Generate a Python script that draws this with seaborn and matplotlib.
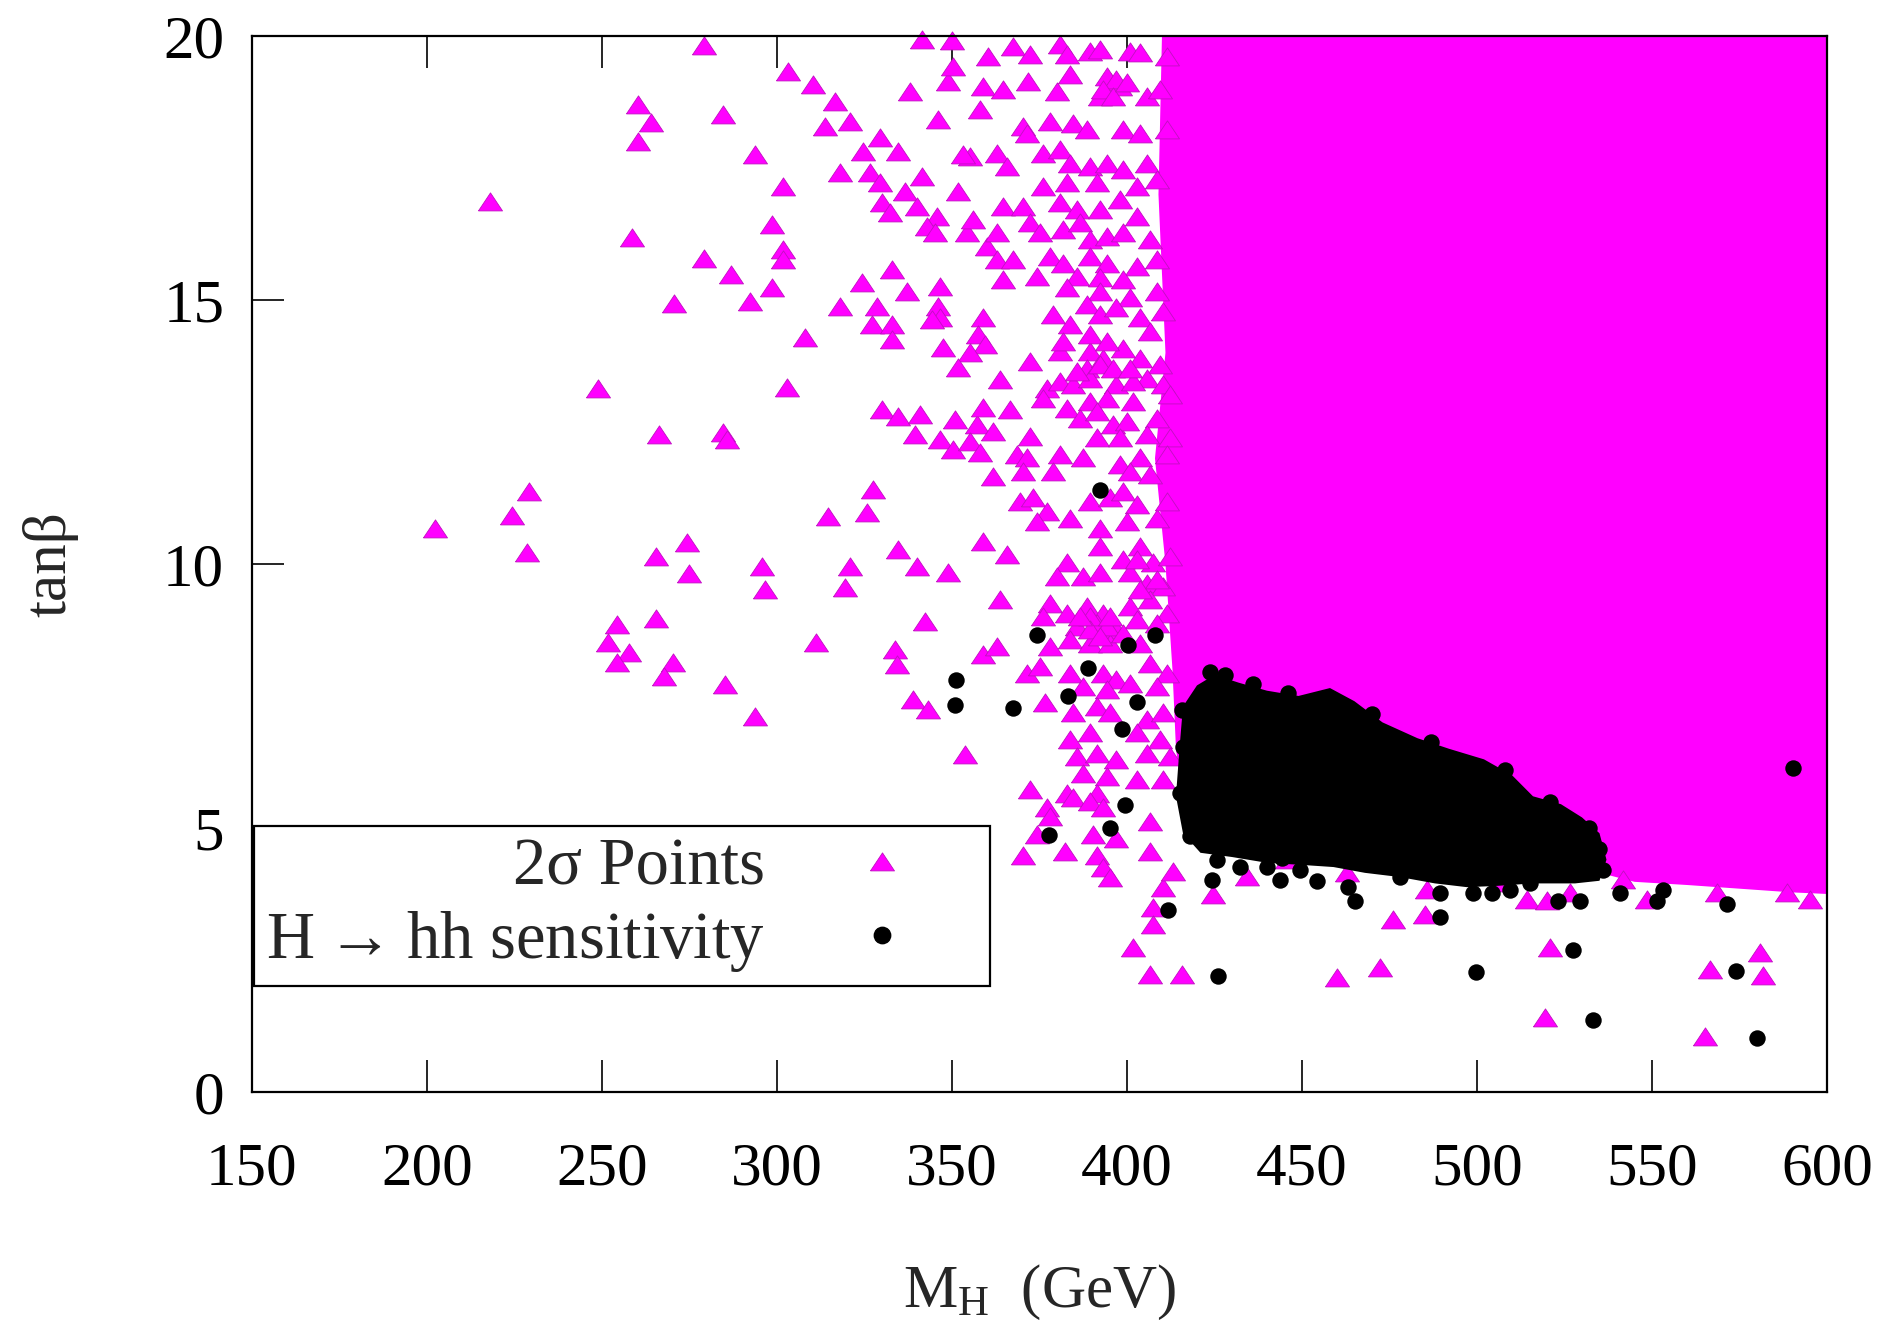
import matplotlib
matplotlib.use("Agg")
import matplotlib.pyplot as plt
import seaborn as sns
import pandas as pd
from matplotlib.lines import Line2D

# ---------------------------------------------------------------------------
# 2-sigma allowed points (M_H [GeV], tan beta), sparse part of the scan
# ---------------------------------------------------------------------------
pts_far_left = [
    (279.1, 19.81), (260.3, 18.69), (264.0, 18.35), (260.3, 17.99), (284.6, 18.5),
    (218.0, 16.86), (258.6, 16.17), (279.1, 15.78), (286.9, 15.47), (270.6, 14.92),
    (248.9, 13.31), (266.3, 12.44), (284.6, 12.48), (285.7, 12.35), (229.1, 11.36),
    (224.3, 10.9), (202.3, 10.66), (228.6, 10.2), (265.4, 10.13), (274.3, 10.4),
    (274.9, 9.81), (265.4, 8.96), (254.3, 8.84), (251.7, 8.5), (257.7, 8.31),
    (254.3, 8.13), (270.3, 8.13), (267.7, 7.86), (285.1, 7.71),
]

pts_middle = [
    (303.1, 19.32), (310.3, 19.07), (316.6, 18.75), (313.7, 18.28), (320.9, 18.37),
    (293.7, 17.75), (329.4, 18.07), (324.6, 17.8), (334.6, 17.8), (338.0, 18.94),
    (341.4, 19.92), (350.0, 19.9), (348.9, 19.13), (350.3, 19.41), (346.0, 18.41),
    (301.7, 17.14), (318.0, 17.4), (326.6, 17.4), (329.4, 17.22), (341.4, 17.33),
    (336.6, 17.05), (330.0, 16.84), (332.3, 16.65), (340.0, 16.76), (345.7, 16.57),
    (351.7, 17.05), (298.6, 16.42), (301.7, 15.95), (301.7, 15.76), (342.9, 16.38),
    (345.1, 16.27), (354.3, 16.27), (356.0, 16.52), (298.6, 15.23), (292.3, 14.96),
    (324.3, 15.32), (332.9, 15.57), (337.1, 15.15), (318.0, 14.87), (328.6, 14.87),
    (327.1, 14.53), (332.9, 14.53), (332.9, 14.24), (346.6, 15.25), (346.0, 14.87),
    (346.6, 14.66), (308.0, 14.28), (344.3, 14.62), (347.4, 14.09), (358.9, 14.66),
    (357.4, 14.34), (359.4, 14.15), (355.1, 14.0), (351.7, 13.71), (302.9, 13.33),
    (330.0, 12.92), (334.6, 12.78), (340.9, 12.82), (339.4, 12.44), (346.6, 12.35),
    (350.9, 12.73), (350.3, 12.16), (357.1, 12.63), (358.9, 12.95), (355.1, 12.31),
    (358.0, 12.1), (327.4, 11.4), (325.7, 10.97), (314.6, 10.89), (360.3, 19.6),
    (358.9, 19.03), (358.0, 18.6), (355.1, 17.7), (353.1, 17.75), (360.0, 16.0),
    (295.6, 9.95), (296.6, 9.5), (320.9, 9.95), (319.4, 9.54), (334.7, 10.26),
    (339.9, 9.95), (348.9, 9.82), (358.9, 10.42), (342.3, 8.91), (311.3, 8.5),
    (333.7, 8.37), (334.2, 8.09), (339.0, 7.42), (343.2, 7.23), (293.7, 7.11),
    (358.9, 8.27), (353.7, 6.38),
]

pts_edge_upper = [
    (367.5, 19.79), (372.3, 19.64), (380.9, 19.83), (382.8, 19.64), (389.4, 19.7),
    (392.3, 19.73), (400.9, 19.7), (403.7, 19.67), (411.3, 19.6), (371.8, 19.13),
    (383.7, 19.26), (395.2, 19.13), (398.0, 19.04), (364.7, 18.97), (379.9, 18.94),
    (392.3, 18.85), (405.6, 18.85), (409.4, 18.97), (370.4, 18.28), (371.3, 18.15),
    (378.0, 18.37), (384.7, 18.34), (388.5, 18.22), (399.0, 18.22), (403.7, 18.15),
    (411.3, 18.22), (362.8, 17.77), (365.6, 17.52), (376.1, 17.77), (380.9, 17.84),
    (383.7, 17.58), (389.4, 17.52), (394.2, 17.58), (399.0, 17.46), (405.6, 17.58),
    (376.1, 17.14), (382.8, 17.21), (391.3, 17.21), (402.8, 17.14), (408.5, 17.27),
    (364.7, 16.76), (370.4, 16.76), (380.9, 16.83), (385.6, 16.7), (392.3, 16.7),
    (398.0, 16.89), (402.8, 16.58), (362.8, 16.26), (372.3, 16.45), (375.2, 16.26),
    (381.8, 16.32), (386.6, 16.45), (389.4, 16.13), (394.2, 16.2), (399.0, 16.26),
    (406.6, 16.13), (362.8, 15.75), (367.5, 15.75), (378.0, 15.82), (381.8, 15.69),
    (389.4, 15.82), (394.2, 15.69), (402.8, 15.63), (408.5, 15.75), (364.7, 15.38),
    (374.2, 15.44), (385.6, 15.44), (392.3, 15.41), (399.0, 15.38),
    (394.2, 19.23), (397.0, 19.16), (393.2, 18.97), (396.1, 18.85), (399.9, 19.1),
]

pts_edge_middle = [
    (382.8, 15.22), (392.3, 15.15), (400.9, 15.03), (408.5, 15.15), (379.0, 14.71),
    (383.7, 14.52), (388.5, 14.9), (392.3, 14.71), (397.0, 14.84), (403.7, 14.65),
    (410.4, 14.77), (406.6, 14.4), (372.3, 13.83), (380.9, 14.02), (381.8, 14.21),
    (389.4, 14.02), (388.5, 13.7), (393.2, 13.89), (399.0, 14.08), (403.7, 13.89),
    (409.4, 13.76), (405.6, 13.51), (363.7, 13.48), (377.1, 13.32), (380.9, 13.45),
    (384.7, 13.39), (389.4, 13.51), (397.0, 13.39), (401.8, 13.45), (410.4, 13.39),
    (376.1, 13.13), (382.8, 12.94), (389.4, 13.07), (394.2, 13.13), (401.8, 13.07),
    (412.3, 13.2), (366.6, 12.91), (386.6, 12.75), (391.3, 12.88), (396.1, 12.63),
    (399.9, 12.69), (408.5, 12.75), (361.8, 12.5), (372.3, 12.41), (391.3, 12.38),
    (398.0, 12.38), (405.6, 12.44), (412.3, 12.38), (368.5, 12.06), (371.3, 12.0),
    (380.9, 12.06), (387.5, 12.0), (398.0, 11.87), (403.7, 12.0), (411.3, 12.06),
    (361.8, 11.65), (370.4, 11.75), (379.0, 11.75), (400.9, 11.75), (406.6, 11.68),
    (369.4, 11.18), (373.2, 11.24), (377.1, 10.99), (383.7, 10.86), (374.2, 10.8),
    (389.4, 11.18), (395.2, 11.24), (399.0, 11.37), (402.8, 11.11), (399.9, 10.8),
    (408.5, 10.86), (392.3, 10.67), (411.3, 11.18),
    (389.4, 14.33), (394.2, 14.21), (392.3, 13.77), (396.1, 13.7), (400.9, 13.7),
    (385.6, 13.64),
]

pts_edge_lower = [
    (365.6, 10.17), (382.8, 10.01), (392.3, 10.32), (403.7, 10.32), (399.0, 10.07),
    (407.5, 10.01), (412.3, 10.13), (379.9, 9.76), (387.5, 9.76), (392.3, 9.82),
    (400.9, 9.82), (405.6, 9.63), (410.4, 9.57), (363.7, 9.31), (378.0, 9.25),
    (382.8, 9.06), (388.5, 9.19), (393.2, 9.06), (400.9, 9.19), (406.6, 9.31),
    (411.3, 9.06), (376.1, 9.0), (385.6, 8.81), (391.3, 8.87), (397.0, 8.75),
    (402.8, 8.93), (408.5, 8.87), (362.8, 8.43), (378.0, 8.43), (383.7, 8.56),
    (389.4, 8.49), (395.2, 8.49), (403.7, 8.49), (371.3, 7.92), (375.2, 8.05),
    (383.7, 7.92), (393.2, 7.92), (397.0, 7.8), (406.6, 8.11), (411.3, 7.92),
    (387.5, 7.67), (394.2, 7.61), (400.9, 7.73), (408.5, 7.67), (376.6, 7.36),
    (384.7, 7.17), (391.3, 7.29), (395.2, 7.17), (405.6, 7.04), (410.4, 7.17),
    (383.7, 6.66), (389.4, 6.79), (402.8, 6.79), (409.4, 6.66), (385.6, 6.35),
    (391.3, 6.41), (397.0, 6.28), (405.6, 6.41), (412.3, 6.35), (387.5, 6.03),
    (394.2, 5.97), (402.8, 5.9), (410.4, 5.9), (372.3, 5.72), (382.8, 5.65),
    (391.3, 5.65), (377.1, 5.37), (378.0, 5.21), (384.7, 5.56), (389.4, 5.5),
    (393.2, 5.37), (406.6, 5.12), (374.2, 4.87), (370.4, 4.46), (382.3, 4.55),
    (390.4, 4.87), (391.3, 4.46), (397.0, 4.8), (393.2, 4.24), (395.2, 4.05),
    (406.6, 4.55), (410.4, 3.86), (407.5, 3.48), (407.5, 3.16), (401.8, 2.72),
    (406.6, 2.22), (415.6, 2.22), (413.2, 4.17),
    (389.4, 9.0), (394.2, 8.81), (389.4, 8.75), (395.2, 9.0), (392.3, 8.62),
    (399.0, 8.68), (386.6, 9.0), (403.7, 9.5), (408.5, 9.69), (402.8, 10.07),
]

pts_low_mass_right = [
    (424.7, 3.73), (434.2, 4.08), (445.6, 4.4), (462.8, 4.14), (485.6, 3.83),
    (506.6, 3.95), (526.6, 3.76), (476.1, 3.26), (485.1, 3.35), (514.2, 3.64),
    (519.9, 3.61), (520.9, 2.72), (472.3, 2.34), (459.9, 2.15), (519.4, 1.4),
    (566.6, 2.31), (580.9, 2.63), (581.8, 2.19), (565.1, 1.05), (568.5, 3.76),
    (548.5, 3.64), (588.5, 3.76), (595.1, 3.64), (541.8, 4.02),
]

# Outline of the region where the 2-sigma points fill the plane completely
dense_mh = [410, 600, 600, 590, 575, 560, 545, 538, 530, 516, 505, 497, 488, 478,
            468, 459, 450, 440, 430, 421, 417, 414, 413, 411, 408, 411, 409, 410]
dense_tb = [20, 20, 3.75, 3.78, 3.85, 3.92, 3.98, 4.1, 4.05, 4.05, 4.0, 3.98, 4.05,
            4.15, 4.25, 4.35, 4.4, 4.45, 4.55, 4.65, 5.0, 6.5, 8.0, 10.0, 12.0,
            14.0, 17.0, 20]

# ---------------------------------------------------------------------------
# Points with H -> hh sensitivity
# ---------------------------------------------------------------------------
hh_points = [
    (392.3, 11.4), (351.1, 7.8), (350.9, 7.33), (367.4, 7.27), (374.3, 8.66),
    (388.9, 8.03), (383.1, 7.5), (400.3, 8.47), (408.0, 8.66), (402.9, 7.39),
    (423.7, 7.95), (398.6, 6.87), (399.4, 5.44), (395.1, 5.0), (377.7, 4.87),
    (415.1, 5.66), (424.6, 5.47), (424.3, 4.02), (411.7, 3.45), (415.6, 7.23),
    (416.1, 6.54), (426.1, 2.19), (499.7, 2.28), (527.3, 2.69), (533.2, 1.37),
    (489.4, 3.32), (465.1, 3.61), (444.2, 4.43), (449.4, 4.21), (454.2, 3.99),
    (443.7, 4.02), (489.4, 3.76), (499.0, 3.76), (504.2, 3.76), (509.4, 3.83),
    (523.2, 3.61), (529.4, 3.61), (439.9, 4.27), (432.3, 4.27), (425.6, 4.4),
    (418.0, 4.84), (422.8, 5.03), (463.2, 3.89), (478.0, 4.08), (515.1, 3.95),
    (590.2, 6.13), (573.9, 2.3), (579.9, 1.02), (571.3, 3.56), (551.3, 3.61),
    (553.2, 3.83), (540.9, 3.76), (536.1, 4.21),
    (428.0, 7.9), (436.0, 7.72), (446.0, 7.55), (470.0, 7.15), (487.0, 6.62),
    (508.0, 6.1), (521.0, 5.5), (532.0, 5.0), (535.0, 4.6),
]

# Outline of the dense core of the H -> hh sensitive points
core_mh = [416, 420, 425, 432, 440, 449, 458, 465, 473, 483, 492, 502, 510, 516,
           524, 530, 535, 537, 535, 528, 516, 505, 497, 488, 478, 468, 459, 450,
           440, 430, 421, 416, 414, 415]
core_tb = [7.3, 7.7, 7.9, 7.75, 7.6, 7.5, 7.65, 7.4, 7.0, 6.7, 6.5, 6.3, 6.0, 5.6,
           5.45, 5.2, 4.9, 4.4, 4.0, 3.95, 3.95, 3.9, 3.88, 3.95, 4.07, 4.15, 4.26,
           4.3, 4.34, 4.45, 4.53, 4.9, 5.6, 6.5]

x_ticks = [150, 200, 250, 300, 350, 400, 450, 500, 550, 600]
y_ticks = [0, 5, 10, 15, 20]
label_2sigma = "2σ Points"
label_hh = r"H$\rightarrow$hh sensitivity"

MAGENTA = "#ff00ff"
EDGE = "#c010c0"
# flattened triangle, wider than it is tall
TRIANGLE = [(-1.0, -0.7), (1.0, -0.7), (0.0, 0.8), (-1.0, -0.7)]

sns.set_style("ticks")
plt.rcParams["font.family"] = ["Liberation Serif", "DejaVu Serif"]
plt.rcParams["mathtext.fontset"] = "dejavuserif"
plt.rcParams["mathtext.default"] = "regular"

sigma_df = pd.DataFrame(
    pts_far_left + pts_middle + pts_edge_upper + pts_edge_middle
    + pts_edge_lower + pts_low_mass_right,
    columns=["MH", "tanb"],
)
hh_df = pd.DataFrame(hh_points, columns=["MH", "tanb"])

fig = plt.figure(figsize=(18.97, 13.32), dpi=100)
ax = fig.add_axes([0.1328, 0.1802, 0.8303, 0.7928])

ax.fill(dense_mh, dense_tb, color=MAGENTA, lw=0, zorder=1)
sns.scatterplot(data=sigma_df, x="MH", y="tanb", ax=ax, marker=TRIANGLE, s=300,
                color=MAGENTA, edgecolor=EDGE, linewidth=0.6,
                clip_on=False, zorder=2, legend=False)
ax.fill(core_mh, core_tb, color="black", lw=0, zorder=3)
sns.scatterplot(data=hh_df, x="MH", y="tanb", ax=ax, marker="o", s=140,
                color="black", edgecolor="black", linewidth=0,
                clip_on=False, zorder=4, legend=False)

ax.set_xlim(150, 600)
ax.set_ylim(0, 20)
ax.set_xticks(x_ticks)
ax.set_yticks(y_ticks)
ax.set_xticklabels([str(v) for v in x_ticks])
ax.set_yticklabels([str(v) for v in y_ticks])
ax.tick_params(axis="both", which="both", direction="in", length=23, width=1.2,
               top=True, right=True, labelsize=44, colors="black")
ax.tick_params(axis="x", pad=36)
ax.tick_params(axis="y", pad=20)
for sp in ax.spines.values():
    sp.set_visible(True)
    sp.set_linewidth(1.6)
    sp.set_color("black")
    sp.set_zorder(6)

ax.set_xlabel(r"M$_{H}$  (GeV)", fontsize=44)
ax.set_ylabel("tanβ", fontsize=44)
ax.xaxis.set_label_coords(0.5, -0.162)
ax.yaxis.set_label_coords(-0.110, 0.5)

handles = [
    Line2D([], [], ls="none", marker=TRIANGLE, markersize=17.3, color=MAGENTA,
           markeredgecolor=EDGE, markeredgewidth=0.6),
    Line2D([], [], ls="none", marker="o", markersize=11.8, color="black"),
]
leg = ax.legend(handles, [label_2sigma, label_hh], loc="lower left",
                bbox_to_anchor=(0.0013, 0.1004), borderaxespad=0,
                markerfirst=False, fontsize=48, frameon=True, fancybox=False,
                framealpha=1, edgecolor="black", facecolor="white",
                borderpad=0.18, labelspacing=0.15, handlelength=2.9,
                handletextpad=0.3)
leg.get_frame().set_linewidth(1.6)
leg.set_zorder(7)

fig.savefig("out.png", dpi=100, facecolor="white")
